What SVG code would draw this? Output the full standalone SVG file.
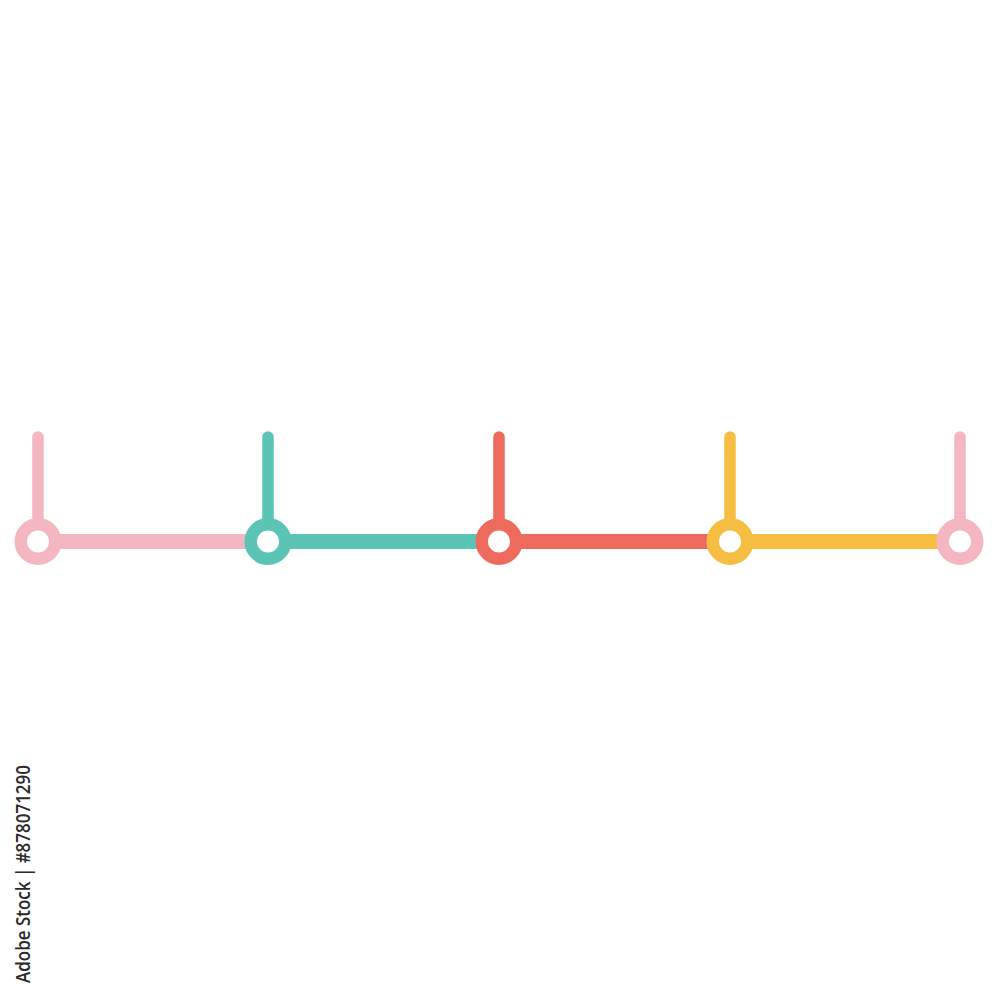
<svg xmlns="http://www.w3.org/2000/svg" width="1000" height="1000" viewBox="0 0 1000 1000">
<style>
.h{stroke-width:15;fill:none}
.v{stroke-width:11.5;stroke-linecap:round;fill:none}
.ring{fill:#fff;stroke-width:12.5}
.pink{stroke:#F4B6C0}.teal{stroke:#5BC4B4}.red{stroke:#EE6A5C}.yel{stroke:#F5BE42}
.wm{font-family:"Open Sans","DejaVu Sans",sans-serif;font-size:20px;font-weight:600;fill:#2a2a2a}
</style>
<rect width="1000" height="1000" fill="#fff"/>
<g id="connectors">
<line class="h pink" x1="38" y1="541.5" x2="268" y2="541.5"/>
<line class="h teal" x1="268" y1="541.5" x2="499" y2="541.5"/>
<line class="h red" x1="499" y1="541.5" x2="730" y2="541.5"/>
<line class="h yel" x1="730" y1="541.5" x2="960" y2="541.5"/>
</g>
<g id="node1"><line class="v pink" x1="38" y1="437" x2="38" y2="530"/><circle class="ring pink" cx="38" cy="541.5" r="17.25"/></g>
<g id="node2"><line class="v teal" x1="268" y1="437" x2="268" y2="530"/><circle class="ring teal" cx="268" cy="541.5" r="17.25"/></g>
<g id="node3"><line class="v red" x1="499" y1="437" x2="499" y2="530"/><circle class="ring red" cx="499" cy="541.5" r="17.25"/></g>
<g id="node4"><line class="v yel" x1="730" y1="437" x2="730" y2="530"/><circle class="ring yel" cx="730" cy="541.5" r="17.25"/></g>
<g id="node5"><line class="v pink" x1="960" y1="437" x2="960" y2="530"/><circle class="ring pink" cx="960" cy="541.5" r="17.25"/></g>
<text class="wm" transform="translate(30,983) rotate(-90)" textLength="218" lengthAdjust="spacingAndGlyphs">Adobe Stock | #878071290</text>
</svg>
